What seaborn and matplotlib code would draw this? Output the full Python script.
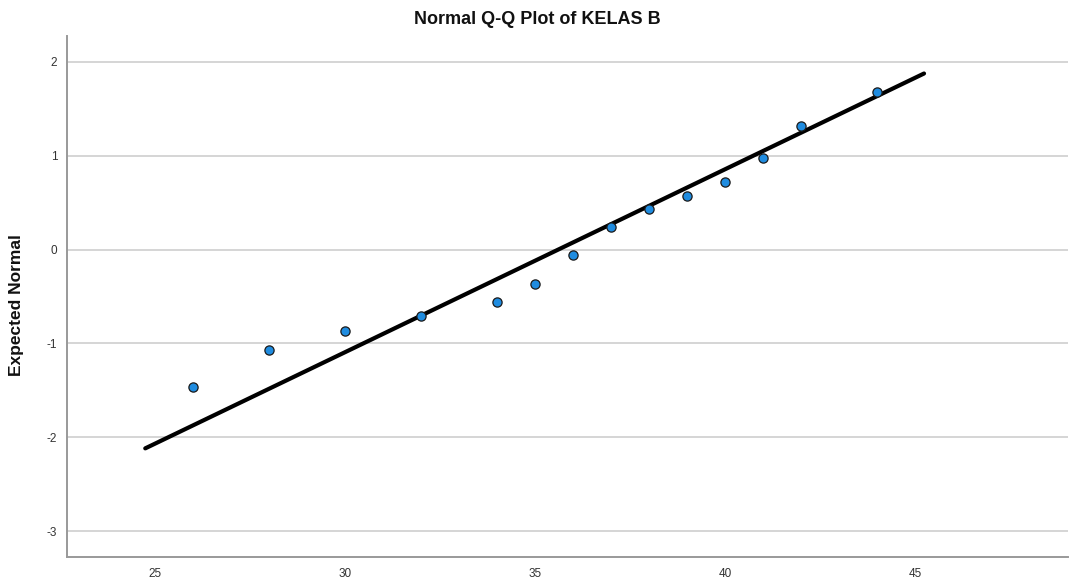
import matplotlib
matplotlib.use("Agg")
import matplotlib.pyplot as plt
import seaborn as sns
import numpy as np
import pandas as pd

# Data
observed = [26, 28, 30, 32, 34, 35, 36, 37, 38, 39, 40, 41, 42, 44]
expected = [-1.464, -1.066, -0.871, -0.711, -0.562, -0.363, -0.057, 0.242,
            0.434, 0.572, 0.720, 0.973, 1.315, 1.677]
line_x = [24.74, 45.24]
line_mean = 35.61
line_sd = 5.13
x_ticks = [25, 30, 35, 40, 45]
y_ticks = [-3, -2, -1, 0, 1, 2]

sns.set_theme(style="white")
plt.rcParams['font.family'] = ['Liberation Sans', 'DejaVu Sans']
plt.rcParams['axes.unicode_minus'] = False

fig = plt.figure(figsize=(10.7, 5.85), dpi=100)
W, H = 1070, 585
ax = fig.add_axes([67 / W, (H - 557) / H, (1068 - 67) / W, (557 - 36) / H])

df_pts = pd.DataFrame({"obs": observed, "exp": expected})
df_line = pd.DataFrame({"x": line_x,
                        "y": [(v - line_mean) / line_sd for v in line_x]})

ax.set_xlim(22.68, 49.03)
ax.set_ylim(-3.277, 2.277)
ax.set_yticks(y_ticks)
ax.set_xticks(x_ticks)
ax.yaxis.grid(True, color="#d2d2d2", linewidth=1.3)
ax.set_axisbelow(True)

sns.lineplot(data=df_line, x="x", y="y", color="black", linewidth=3.0, ax=ax, zorder=2)
sns.scatterplot(data=df_pts, x="obs", y="exp", s=44, color="#1f8ce0",
                edgecolor="#1a1a1a", linewidth=0.9, ax=ax, zorder=3)

for s in ["top", "right"]:
    ax.spines[s].set_visible(False)
for s in ["left", "bottom"]:
    ax.spines[s].set_color("#999999")
    ax.spines[s].set_linewidth(1.4)

ax.tick_params(axis="both", length=0, labelsize=8.5, labelcolor="#333333")
ax.tick_params(axis="x", pad=8)
ax.tick_params(axis="y", pad=7)
ax.set_xlabel("")
ax.set_ylabel("")
fig.text(17 / W, 1 - 305 / H, "Expected Normal", ha="center", va="center",
         rotation=90, fontsize=12.5, fontweight="bold", color="#111111")
fig.text(537 / W, 1 - 19 / H, "Normal Q-Q Plot of KELAS B", ha="center", va="center",
         fontsize=13, fontweight="bold", color="#111111")

fig.savefig("out.png", dpi=100)
